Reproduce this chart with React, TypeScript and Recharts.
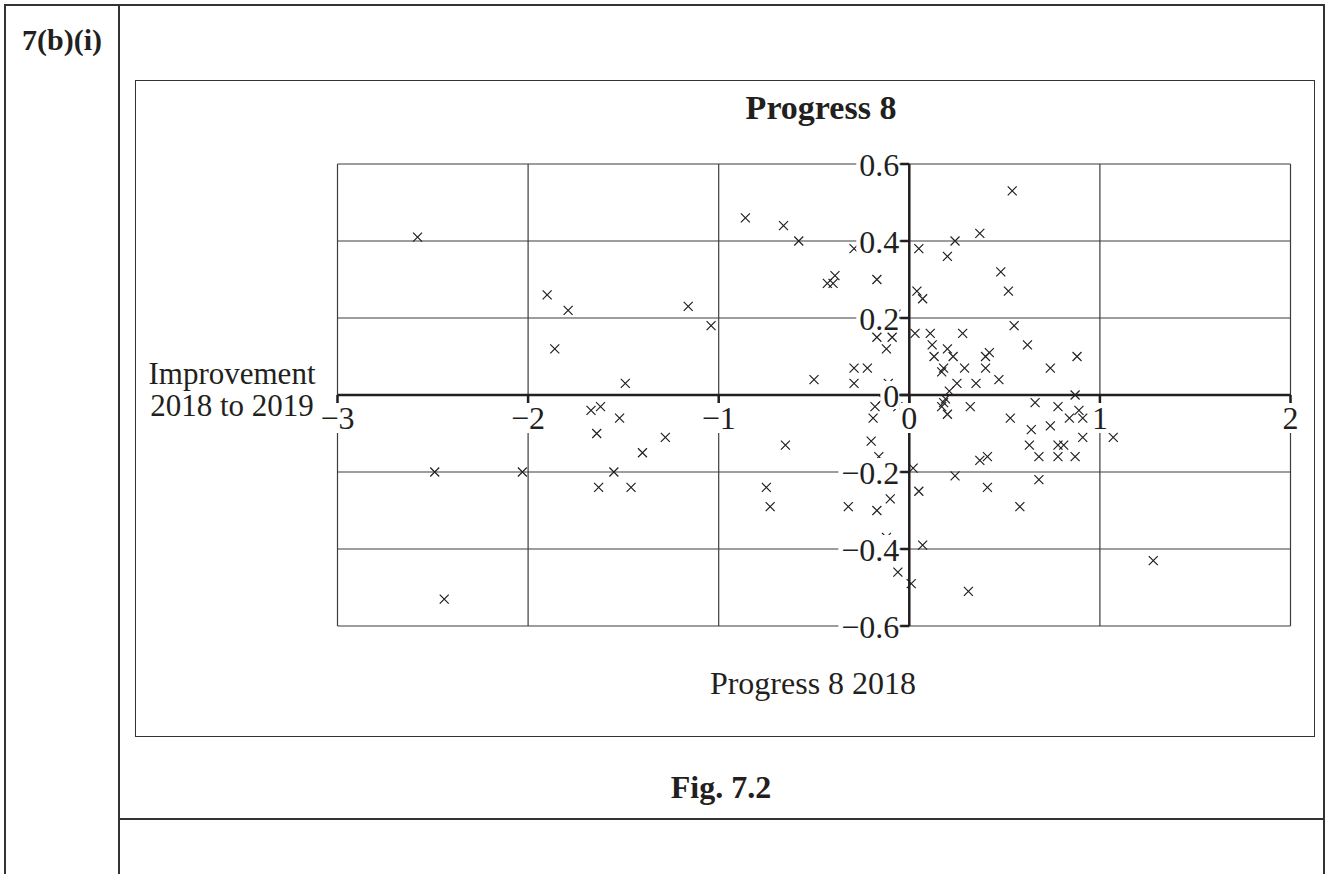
import { ScatterChart, Scatter, XAxis, YAxis, CartesianGrid, ReferenceLine } from 'recharts'

// Progress 8 2018 (x) against improvement 2018 to 2019 (y)
const progress2018 = [
  -2.58, -1.9, -1.79, -1.86, -1.49, -1.16, -1.04, -0.86, -0.66, -0.58, -0.5, -0.43, -0.4,
  -0.39, -0.29, -0.24, -0.29, -0.22, -0.29, -0.17, -0.17, -0.12, -0.09, -0.07, -0.11,
  0.05, 0.2, 0.24, 0.37, 0.54, 0.04, 0.07, 0.48, 0.52, 0.55, 0.62, 0.03, 0.11, 0.12, 0.13,
  0.2, 0.28, 0.23, 0.18, 0.17, 0.29, 0.25, 0.21, 0.35, 0.4, 0.42, 0.4, 0.47, 0.74, 0.88, 0.87,
  -2.49, -2.03, -2.44, -1.67, -1.62, -1.52, -1.64, -1.4, -1.55, -1.63, -1.46, -1.28, -0.65,
  -0.75, -0.73, -0.32, -0.17, -0.1, -0.18, -0.19, -0.14, -0.06, -0.2, -0.16, -0.09, -0.12,
  -0.06,
  0.01, 0.02, 0.05, 0.07, 0.24, 0.37, 0.41, 0.31, 0.41, 0.58, 0.68, 1.28, 0.18, 0.17, 0.2,
  0.19, 0.32, 0.66, 0.78, 0.89, 0.84, 0.91, 0.53, 0.74, 0.64, 0.91, 1.07, 0.63, 0.78, 0.81,
  0.68, 0.78, 0.87,
]
const improvement = [
  0.41, 0.26, 0.22, 0.12, 0.03, 0.23, 0.18, 0.46, 0.44, 0.4, 0.04, 0.29, 0.29,
  0.31, 0.38, 0.42, 0.07, 0.07, 0.03, 0.3, 0.15, 0.12, 0.15, 0.21, 0.03,
  0.38, 0.36, 0.4, 0.42, 0.53, 0.27, 0.25, 0.32, 0.27, 0.18, 0.13, 0.16, 0.16, 0.13, 0.1,
  0.12, 0.16, 0.1, 0.07, 0.06, 0.07, 0.03, 0.01, 0.03, 0.1, 0.11, 0.07, 0.04, 0.07, 0.1, 0.0,
  -0.2, -0.2, -0.53, -0.04, -0.03, -0.06, -0.1, -0.15, -0.2, -0.24, -0.24, -0.11, -0.13,
  -0.24, -0.29, -0.29, -0.3, -0.27, -0.03, -0.06, -0.01, -0.03, -0.12, -0.16, -0.2, -0.37,
  -0.46,
  -0.49, -0.19, -0.25, -0.39, -0.21, -0.17, -0.16, -0.51, -0.24, -0.29, -0.22, -0.43, -0.02,
  -0.03, -0.05, -0.01, -0.03, -0.02, -0.03, -0.04, -0.06, -0.06, -0.06, -0.08, -0.09, -0.11,
  -0.11, -0.13, -0.13, -0.13, -0.16, -0.16, -0.16,
]
const xTicks = [-3, -2, -1, 0, 1, 2]
const yTicks = [-0.6, -0.4, -0.2, 0, 0.2, 0.4, 0.6]

const points = progress2018.map((x, i) => ({ x, y: improvement[i] }))

const INK = '#231f20'
const FONT = '"Liberation Serif", "Times New Roman", serif'
const FS = 32
const W = 1328
const H = 874
const PLOT = { left: 337.5, top: 164, right: 1290.5, bottom: 626 }
const X_AXIS_H = 30
const Y_AXIS_W = 60
const MARGIN = {
  top: PLOT.top,
  right: W - PLOT.right,
  bottom: H - PLOT.bottom - X_AXIS_H,
  left: PLOT.left - Y_AXIS_W,
}
// where the axes cross (x = 0, y = 0)
const ZERO_X = PLOT.left + (PLOT.right - PLOT.left) * (3 / 5)
const ZERO_Y = (PLOT.top + PLOT.bottom) / 2

function fmt(v: number, digits: number) {
  if (v === 0) return '0'
  const s = Math.abs(v).toFixed(digits)
  return v < 0 ? '\u2212' + s : s
}

function textWidth(s: string) {
  let w = 0
  for (const c of s) w += c === '.' ? 0.25 : c === '\u2212' ? 0.56 : 0.5
  return w * FS
}

function XTick(props: any) {
  const { x, payload } = props
  const label = fmt(payload.value, 0)
  const w = textWidth(label) + 4
  return (
    <g>
      <line x1={x} x2={x} y1={ZERO_Y} y2={ZERO_Y + 9} stroke={INK} strokeWidth={2.5} />
      <rect x={x - w / 2} y={ZERO_Y + 8} width={w} height={30} fill="#fff" />
      <text x={x} y={ZERO_Y + 23} textAnchor="middle" dominantBaseline="central"
        fontFamily={FONT} fontSize={FS} fill={INK}>
        {label}
      </text>
    </g>
  )
}

function YTick(props: any) {
  const { y, payload } = props
  const label = fmt(payload.value, 1)
  const w = textWidth(label) + 3
  return (
    <g>
      <line x1={ZERO_X - 9} x2={ZERO_X} y1={y} y2={y} stroke={INK} strokeWidth={2.5} />
      <rect x={ZERO_X - 10 - w} y={y - 14} width={w} height={28} fill="#fff" />
      <text x={ZERO_X - 10} y={y + 1} textAnchor="end" dominantBaseline="central"
        fontFamily={FONT} fontSize={FS} fill={INK}>
        {label}
      </text>
    </g>
  )
}

function Cross(props: any) {
  const { cx, cy } = props
  const s = 4.5
  return (
    <path
      d={`M${cx - s},${cy - s}L${cx + s},${cy + s}M${cx - s},${cy + s}L${cx + s},${cy - s}`}
      stroke={INK}
      strokeWidth={1.2}
      fill="none"
    />
  )
}

const line = (left: number, top: number, width: number, height: number) => (
  <div style={{ position: 'absolute', left, top, width, height, background: '#333' }} />
)

const text = (content: string, cx: number, cy: number, bold = false, size = FS) => (
  <div
    style={{
      position: 'absolute',
      left: cx - 200,
      top: cy - 18,
      width: 400,
      textAlign: 'center',
      lineHeight: '36px',
      fontFamily: FONT,
      fontSize: size,
      fontWeight: bold ? 'bold' : 'normal',
      color: INK,
      whiteSpace: 'pre',
    }}
  >
    {content}
  </div>
)

export default function App() {
  return (
    <div style={{ position: 'relative', width: W, height: H, background: '#fff', overflow: 'hidden' }}>
      <style>{'body{margin:0}'}</style>
      {line(4, 4, 1321, 1.5)}
      {line(4, 4, 1.5, 870)}
      {line(118, 4, 1.5, 870)}
      {line(1323, 4, 1.5, 870)}
      {line(118, 818, 1206, 1.5)}
      <div style={{ position: 'absolute', left: 135, top: 80, width: 1178, height: 655, border: '1.5px solid #333' }} />

      {text('7(b)(i)', 62, 40, true, 30)}
      {text('Progress 8', 821, 108, true, 34)}
      {text('Progress 8 2018', 813, 683)}
      {text('Fig. 7.2', 721, 787, true)}
      <div
        style={{
          position: 'absolute',
          left: 132,
          top: 358,
          width: 200,
          textAlign: 'center',
          lineHeight: '32px',
          fontFamily: FONT,
          fontSize: 31,
          color: INK,
        }}
      >
        Improvement
        <br />
        2018 to 2019
      </div>

      <div style={{ position: 'absolute', left: 0, top: 0 }}>
        <ScatterChart width={W} height={H} margin={MARGIN}>
          <CartesianGrid stroke="#3c3c3c" strokeWidth={1.2} />
          <ReferenceLine x={0} stroke={INK} strokeWidth={2.5} />
          <ReferenceLine y={0} stroke={INK} strokeWidth={2.5} />
          <Scatter data={points} shape={Cross} isAnimationActive={false} />
          <XAxis
            type="number"
            dataKey="x"
            domain={[-3, 2]}
            ticks={xTicks}
            height={X_AXIS_H}
            axisLine={false}
            tickLine={false}
            tick={XTick}
            interval={0}
            allowDataOverflow
          />
          <YAxis
            type="number"
            dataKey="y"
            domain={[-0.6, 0.6]}
            ticks={yTicks}
            width={Y_AXIS_W}
            axisLine={false}
            tickLine={false}
            tick={YTick}
            interval={0}
            allowDataOverflow
          />
        </ScatterChart>
      </div>
    </div>
  )
}
